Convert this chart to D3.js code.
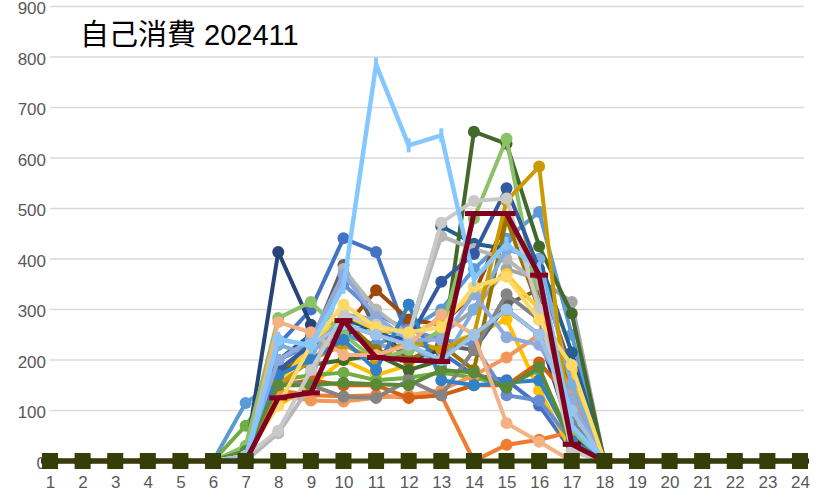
<!DOCTYPE html>
<html><head><meta charset="utf-8">
<script src="https://cdn.jsdelivr.net/npm/d3@7/dist/d3.min.js"></script>
<style>html,body{margin:0;padding:0;background:#fff;overflow:hidden}</style>
</head><body>
<svg id="chart" width="830" height="498"></svg>
<script>
const hours = d3.range(1, 25);
const yTicks = [0,100,200,300,400,500,600,700,800,900];
const title = "自己消費 202411";

// values for hours 7..17 (all other hours are 0)
const s01 = [20,230,300,441,414,240,215,170,160,110,20];
const s02 = [10,140,130,128,130,125,130,0,32,42,58];
const s03 = [10,150,200,250,230,220,250,300,380,360,315];
const s04 = [20,110,150,200,170,190,230,250,280,140,20];
const s05 = [115,160,220,250,230,260,300,380,440,493,250];
const s06 = [70,160,170,175,160,165,175,165,150,180,40];
const s07 = [10,414,270,250,270,200,220,250,300,250,50];
const s08 = [15,170,230,260,338,280,270,330,480,370,180];
const s09 = [0,170,230,388,260,200,230,220,310,340,100];
const s10 = [10,175,230,280,220,200,230,180,480,300,150];
const s11 = [10,200,250,280,260,250,465,430,420,400,215];
const s12 = [20,180,190,200,210,180,200,652,628,425,292];
const s13 = [20,200,230,350,290,260,240,230,130,120,40];
const s14 = [10,130,120,118,125,130,140,170,205,250,140];
const s15 = [0,55,150,380,300,250,445,420,400,350,100];
const s16 = [10,150,230,290,260,250,280,330,370,300,180];
const s17 = [20,230,210,290,280,230,190,300,420,400,150];
const s18 = [30,283,315,250,200,220,260,480,638,300,60];
const s19 = [10,180,230,270,250,240,355,410,540,380,70];
const s20 = [10,150,160,150,150,125,130,150,150,195,120];
const s21 = [10,160,150,127,125,160,130,220,330,280,80];
const s22 = [10,150,200,230,200,240,220,250,515,583,30];
const s23 = [10,170,200,240,180,310,160,150,155,160,40];
const s24 = [20,150,150,155,152,150,180,175,145,185,30];
const s25 = [10,200,240,370,285,240,240,330,245,230,120];
const s26 = [0,275,255,210,210,230,290,250,75,38,0];
const s27 = [10,60,180,290,270,250,472,515,520,300,20];
const s28 = [10,110,230,310,265,255,265,345,365,280,190];
const s29 = [10,240,230,270,250,230,200,250,300,250,100];
const sSky = [0,242,228,345,785,625,645,360,430,380,70];
const sRed = [0,125,135,278,205,200,197,490,490,368,33];
const sZero = [0,0,0,0,0,0,0,0,0,0,0];

const colors = ["#4472C4","#ED7D31","#A5A5A5","#FFC000","#5B9BD5","#70AD47",
  "#264478","#9E480E","#636363","#997300","#255E91","#43682B",
  "#698ED0","#F1975A","#B7B7B7","#FFCD33","#7CAFDD","#8CC168",
  "#335AA1","#D26012","#848484","#CC9A00","#3281C7","#5A8A39",
  "#8FAADC","#F4B183","#C9C9C9","#FFD966","#9DC3E6"];
const regular = [s01,s02,s03,s04,s05,s06,s07,s08,s09,s10,s11,s12,s13,s14,s15,
  s16,s17,s18,s19,s20,s21,s22,s23,s24,s25,s26,s27,s28,s29];

function full(v){ return hours.map(h => (h>=7 && h<=17) ? v[h-7] : 0); }

const svg = d3.select("#chart");
const x = d3.scaleLinear().domain([1,24]).range([50,800]);
const y = d3.scaleLinear().domain([0,900]).range([461,6.5]);

// gridlines
svg.append("g").selectAll("line").data(yTicks).join("line")
  .attr("x1",50).attr("x2",804).attr("y1",d=>y(d)).attr("y2",d=>y(d))
  .attr("stroke","#D9D9D9").attr("stroke-width",1.5);

// y axis labels
const yAxis = d3.axisLeft(y).tickValues(yTicks).tickSize(0).tickPadding(0);
const ga = svg.append("g").attr("transform","translate(46,2)").call(yAxis);
ga.select(".domain").remove();
ga.selectAll("text").attr("font-family","'Liberation Sans', Arial, sans-serif")
  .attr("font-size",17).attr("fill","#595959");

// x axis labels
const xAxis = d3.axisBottom(x).tickValues(hours).tickSize(0).tickPadding(0).tickFormat(d3.format("d"));
const gx = svg.append("g").attr("transform","translate(0,476)").call(xAxis);
gx.select(".domain").remove();
gx.selectAll("text").attr("font-family","'Liberation Sans', Arial, sans-serif")
  .attr("font-size",17).attr("fill","#595959");

const line = d3.line().x((d,i)=>x(hours[i])).y(d=>y(d));

regular.forEach((v,k)=>{
  const data = full(v);
  const g = svg.append("g");
  g.append("path").attr("d",line(data)).attr("fill","none")
    .attr("stroke",colors[k]).attr("stroke-width",4).attr("stroke-linejoin","round");
  g.selectAll("circle").data(data).join("circle")
    .attr("cx",(d,i)=>x(hours[i])).attr("cy",d=>y(d)).attr("r",6)
    .attr("fill",colors[k]);
});

// sky blue series with vertical tick markers
{
  const data = full(sSky);
  const g = svg.append("g");
  g.append("path").attr("d",line(data)).attr("fill","none")
    .attr("stroke","#85C8FF").attr("stroke-width",4.5).attr("stroke-linejoin","round");
  g.selectAll("line").data(data).join("line")
    .attr("x1",(d,i)=>x(hours[i])).attr("x2",(d,i)=>x(hours[i]))
    .attr("y1",d=>y(d)-7).attr("y2",d=>y(d)+7)
    .attr("stroke","#85C8FF").attr("stroke-width",4);
}
// dark red series with dash markers
{
  const data = full(sRed);
  const g = svg.append("g");
  g.append("path").attr("d",line(data)).attr("fill","none")
    .attr("stroke","#800020").attr("stroke-width",5).attr("stroke-linejoin","round");
  g.selectAll("rect").data(data).join("rect")
    .attr("x",(d,i)=>x(hours[i])-9).attr("y",d=>y(d)-2.5)
    .attr("width",18).attr("height",5).attr("fill","#800020");
}
// zero series with square markers
{
  const data = full(sZero);
  const g = svg.append("g");
  g.append("path").attr("d",line(data)).attr("fill","none")
    .attr("stroke","#333F06").attr("stroke-width",5);
  g.selectAll("rect").data(data).join("rect")
    .attr("x",(d,i)=>x(hours[i])-8).attr("y",d=>y(d)-8)
    .attr("width",16).attr("height",16).attr("fill","#333F06");
}

// title
svg.append("text").attr("x",80).attr("y",45)
  .attr("font-family","'Liberation Sans', 'Noto Sans CJK JP', sans-serif")
  .attr("font-size",29).attr("fill","#000").text(title);
</script>
</body></html>
